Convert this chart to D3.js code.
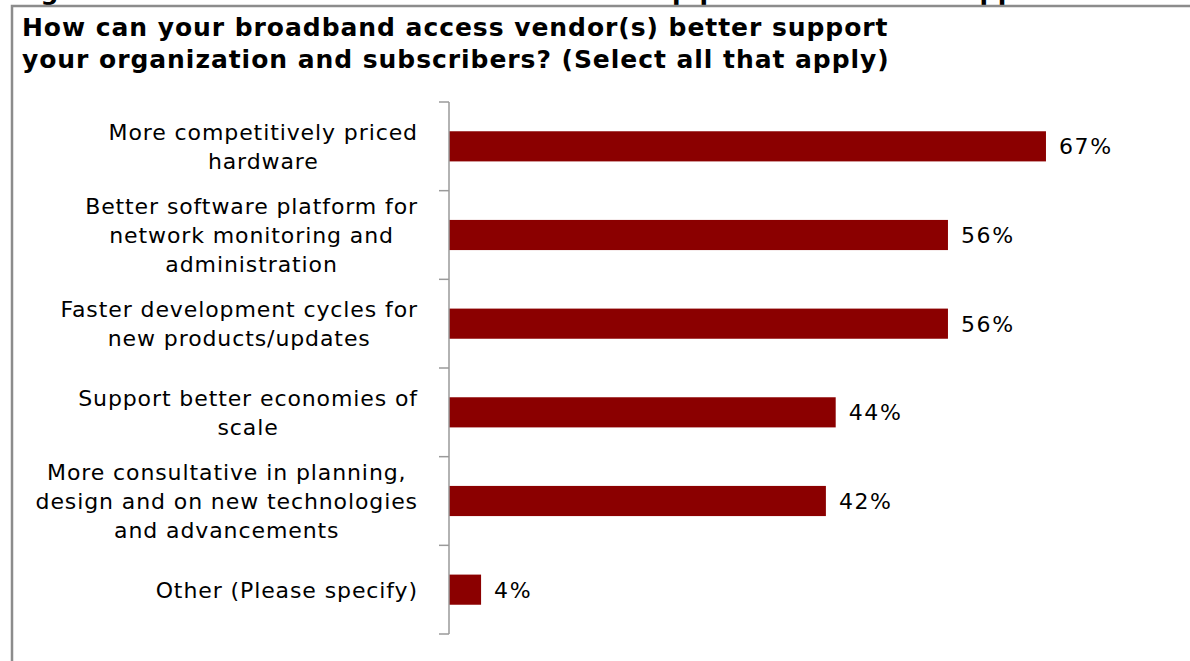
<!DOCTYPE html>
<html><head><meta charset="utf-8">
<script src="https://cdn.jsdelivr.net/npm/d3@7"></script>
<style>
html,body{margin:0;padding:0;background:#fff;}
svg{display:block;}
</style></head>
<body>
<svg id="chart" width="1190" height="661"></svg>
<script>
const headerText = "Figure 10: Broadband access vendors can help providers better support";
const titleLines = ["How can your broadband access vendor(s) better support",
                    "your organization and subscribers? (Select all that apply)"];
const categories = [
  "More competitively priced\nhardware",
  "Better software platform for\nnetwork monitoring and\nadministration",
  "Faster development cycles for\nnew products/updates",
  "Support better economies of\nscale",
  "More consultative in planning,\ndesign and on new technologies\nand advancements",
  "Other (Please specify)"
];
const values = [67, 56, 56, 43.4, 42.3, 3.6];
const valueLabels = ["67%", "56%", "56%", "44%", "42%", "4%"];

const svg = d3.select("#chart");
const font = "'DejaVu Sans', Verdana, sans-serif";

// header fragment (cut off at the top edge, as in the source)
svg.append("text").attr("x", 14).attr("y", -0.5)
  .attr("font-family", font).attr("font-weight", "bold").attr("font-size", 25)
  .attr("letter-spacing", 0.4)
  .attr("fill", "#000").text(headerText);

// frame
svg.append("rect").attr("x", 12).attr("y", 6).attr("width", 1300).attr("height", 800)
  .attr("fill", "#fff").attr("stroke", "#8c8c8c").attr("stroke-width", 2.5);

// title
svg.append("g").selectAll("text").data(titleLines).join("text")
  .attr("x", 22).attr("y", (d, i) => 36 + i * 32)
  .attr("font-family", font).attr("font-weight", "bold").attr("font-size", 25)
  .attr("letter-spacing", 0.95)
  .attr("fill", "#000").text(d => d);

const y = d3.scaleBand().domain(categories).range([102, 634]).paddingInner(0.66).paddingOuter(0.33);
const x = d3.scaleLinear().domain([0, 100]).range([449, 449 + 891]);

// bars
svg.append("g").selectAll("rect").data(values).join("rect")
  .attr("x", x(0)).attr("y", (d, i) => y(categories[i]))
  .attr("width", d => x(d) - x(0)).attr("height", y.bandwidth())
  .attr("fill", "#8b0000");

// value labels
svg.append("g").selectAll("text").data(values).join("text")
  .attr("x", d => x(d) + 13).attr("y", (d, i) => y(categories[i]) + y.bandwidth() / 2)
  .attr("dy", "0.36em")
  .attr("font-family", font).attr("font-size", 22).attr("letter-spacing", 1.6).attr("fill", "#000")
  .text((d, i) => valueLabels[i]);

// axis line and ticks at band boundaries
const axis = svg.append("g");
const r0 = y.range()[0], r1 = y.range()[1];
axis.append("line").attr("x1", x(0)).attr("x2", x(0)).attr("y1", r0).attr("y2", r1)
  .attr("stroke", "#9a9a9a").attr("stroke-width", 1.5);
const bounds = d3.range(categories.length + 1).map(i => r0 + i * y.step());
axis.selectAll("line.tick").data(bounds).join("line").attr("class", "tick")
  .attr("x1", x(0) - 10).attr("x2", x(0)).attr("y1", d => d).attr("y2", d => d)
  .attr("stroke", "#9a9a9a").attr("stroke-width", 1.5);

// category labels: block right-aligned, lines centered
const lineH = 29;
const labelRight = 418;
categories.forEach(cat => {
  const lines = cat.split("\n");
  const g = svg.append("g");
  const cy = y(cat) + y.bandwidth() / 2;
  const texts = g.selectAll("text").data(lines).join("text")
    .attr("font-family", font).attr("font-size", 22).attr("letter-spacing", 0.9).attr("fill", "#000")
    .attr("text-anchor", "middle")
    .attr("y", (d, i) => cy + (i - (lines.length - 1) / 2) * lineH)
    .attr("dy", "0.36em").text(d => d);
  let maxW = 0;
  texts.each(function () { maxW = Math.max(maxW, this.getComputedTextLength()); });
  texts.attr("x", labelRight - maxW / 2);
});
</script>
</body></html>
